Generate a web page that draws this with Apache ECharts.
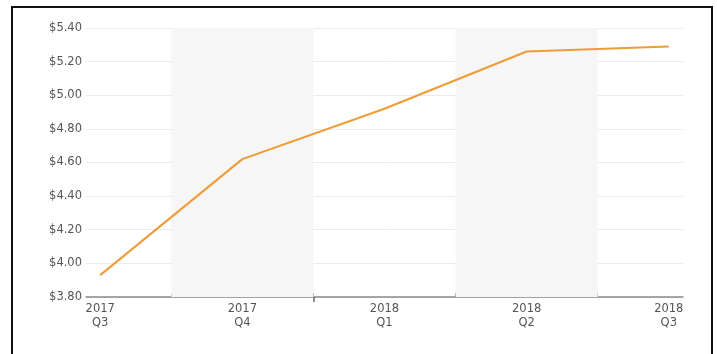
<!DOCTYPE html>
<html>
<head>
<meta charset="utf-8">
<style>
  html, body { margin: 0; padding: 0; background: #ffffff; }
  #chart { width: 717px; height: 354px; }
</style>
<script src="https://cdn.jsdelivr.net/npm/echarts@6/dist/echarts.min.js"></script>
</head>
<body>
<div id="chart"></div>
<script>
// Quarterly price series
const quarters = ['2017\nQ3', '2017\nQ4', '2018\nQ1', '2018\nQ2', '2018\nQ3'];
const prices = [3.93, 4.62, 4.92, 5.26, 5.29];
const yTicks = [3.8, 4.0, 4.2, 4.4, 4.6, 4.8, 5.0, 5.2, 5.4];
// quarters whose column is shaded
const shadedQuarters = [1, 3];
// boundary between the two years
const yearBreak = [1.5];

const idx = quarters.map((_, i) => i);
const between = idx.slice(1).map(i => i - 0.5);

const chart = echarts.init(document.getElementById('chart'));
const font = '"DejaVu Sans", Verdana, sans-serif';

chart.setOption({
  animation: false,
  backgroundColor: '#ffffff',
  graphic: [{
    type: 'rect',
    shape: { x: 12, y: 7, width: 700, height: 360 },
    style: { fill: 'none', stroke: '#111111', lineWidth: 2 },
    z: 100
  }],
  grid: { left: 86, right: 34, top: 28, bottom: 57 },
  xAxis: [{
    type: 'value',
    min: -0.1,
    max: idx.length - 1 + 0.1,
    axisLine: { show: true, lineStyle: { color: '#8a8a8a', width: 1.5 } },
    axisTick: {
      show: true, inside: true, length: 4, customValues: between,
      lineStyle: { color: '#8a8a8a', width: 1 }
    },
    axisLabel: {
      customValues: idx,
      formatter: v => quarters[Math.round(v)] || '',
      color: '#555555', fontFamily: font, fontSize: 11.5, lineHeight: 14, margin: 5
    },
    splitLine: { show: false }
  }, {
    type: 'value',
    position: 'bottom',
    min: -0.1,
    max: idx.length - 1 + 0.1,
    axisLine: { show: false },
    axisTick: {
      show: true, length: 5, customValues: yearBreak,
      lineStyle: { color: '#6a6a6a', width: 1.5 }
    },
    axisLabel: { show: false },
    splitLine: { show: false }
  }],
  yAxis: {
    type: 'value',
    min: yTicks[0],
    max: yTicks[yTicks.length - 1],
    interval: 0.2,
    axisLine: { show: false },
    axisTick: { show: false },
    axisLabel: {
      formatter: v => '$' + v.toFixed(2),
      color: '#555555', fontFamily: font, fontSize: 11.5, margin: 4
    },
    splitLine: { lineStyle: { color: '#ebebeb', width: 1 } }
  },
  series: [{
    type: 'line',
    data: prices.map((p, i) => [i, p]),
    showSymbol: false,
    lineStyle: { color: '#ef9b36', width: 2 },
    z: 5,
    markArea: {
      silent: true,
      itemStyle: { color: '#f6f6f6' },
      data: shadedQuarters.map(q => [{ xAxis: q - 0.5 }, { xAxis: q + 0.5 }])
    }
  }]
});
</script>
</body>
</html>
